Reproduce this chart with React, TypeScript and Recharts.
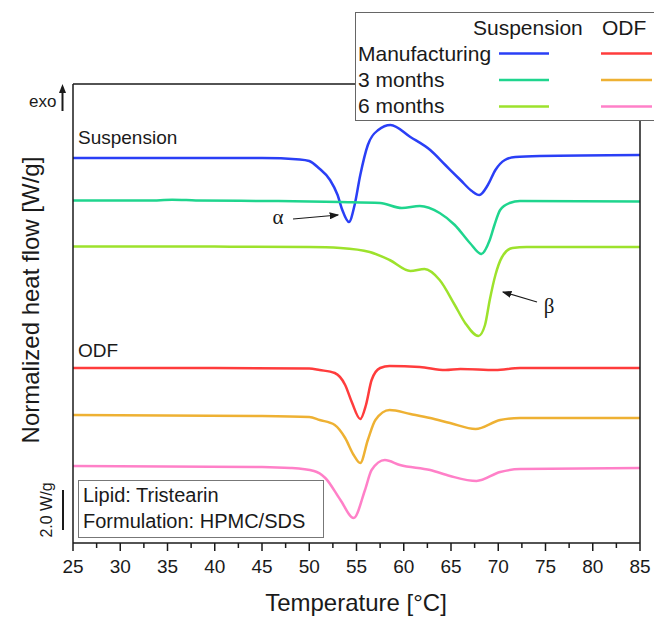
import { Line, LineChart, XAxis, YAxis } from "recharts";

// [temperature °C, stacked heat flow W/g]
const suspManufacturing: [number, number][] = [
  [25, 19.25], [35, 19.25], [45, 19.25], [49, 19.18], [50, 19.1], [51, 18.75], [52.2, 18.15],
  [53, 17.4], [53.5, 16.65], [54.2, 16.05], [54.8, 16.9], [55.4, 18.4], [56.2, 19.9], [57.3, 20.65],
  [58.6, 20.9], [60.7, 20.3], [62.8, 19.65], [64.4, 18.9], [66, 18.15], [67.2, 17.6], [68, 17.4],
  [68.9, 17.9], [69.7, 18.65], [70.7, 19.15], [71.8, 19.3], [74.4, 19.35], [85, 19.4],
];
const susp3Months: [number, number][] = [
  [25, 17.13], [33, 17.12], [35.5, 17.16], [38, 17.13], [45, 17.1], [50, 17.08], [53.3, 17.05],
  [57.5, 17.0], [59.8, 16.75], [61.7, 16.85], [63.8, 16.5], [65.4, 15.9], [67, 15.0], [68.2, 14.45],
  [69.1, 15.15], [69.6, 15.9], [70.2, 16.65], [71.2, 17.0], [72.3, 17.1], [85, 17.08],
];
const susp6Months: [number, number][] = [
  [25, 14.83], [40, 14.82], [50, 14.8], [53.3, 14.75], [56.4, 14.55], [58.5, 14.15], [60.7, 13.6],
  [62.2, 13.7], [63.8, 13.15], [65.4, 11.9], [66.5, 11.0], [67.9, 10.35], [68.6, 10.9], [69.1, 12.15],
  [69.7, 13.4], [70.4, 14.3], [71.5, 14.75], [73, 14.8], [85, 14.8],
];
const odfManufacturing: [number, number][] = [
  [25, 8.75], [40, 8.75], [50, 8.73], [51.1, 8.65], [52.7, 8.5], [53.8, 7.9], [54.5, 7.05],
  [55.4, 6.2], [56, 6.9], [56.6, 8.15], [57.5, 8.75], [58.5, 8.85], [61.7, 8.8], [64.4, 8.65],
  [66, 8.7], [69.7, 8.65], [72.3, 8.75], [85, 8.75],
];
const odf3Months: [number, number][] = [
  [25, 6.4], [45, 6.35], [50, 6.3], [51.1, 6.15], [52.7, 5.9], [53.8, 5.25], [54.7, 4.4],
  [55.4, 4.0], [56.2, 5.15], [57, 6.15], [58.5, 6.65], [60.7, 6.45], [62.8, 6.25], [64.9, 6.0],
  [67.6, 5.7], [70.2, 6.15], [72.3, 6.25], [85, 6.25],
];
const odf6Months: [number, number][] = [
  [25, 3.85], [45, 3.8], [48, 3.75], [50.5, 3.6], [51.7, 3.25], [53.3, 2.15], [54.7, 1.25],
  [55.9, 2.65], [56.6, 3.65], [58, 4.15], [59.6, 3.9], [62.8, 3.65], [64.9, 3.35], [67.7, 3.1],
  [70.2, 3.55], [72.3, 3.7], [85, 3.75],
];

const xTicks = [
  25, 27.5, 30, 32.5, 35, 37.5, 40, 42.5, 45, 47.5, 50, 52.5, 55, 57.5,
  60, 62.5, 65, 67.5, 70, 72.5, 75, 77.5, 80, 82.5, 85,
];

const rowLabels = ["Manufacturing", "3 months", "6 months"];
const suspColors = ["#2a3ff6", "#1fd58e", "#9de22c"];
const odfColors = ["#ff3c3c", "#eeb133", "#ff80c8"];

const series = [
  { name: "susp-manufacturing", points: suspManufacturing, color: suspColors[0] },
  { name: "susp-3m", points: susp3Months, color: suspColors[1] },
  { name: "susp-6m", points: susp6Months, color: suspColors[2] },
  { name: "odf-manufacturing", points: odfManufacturing, color: odfColors[0] },
  { name: "odf-3m", points: odf3Months, color: odfColors[1] },
  { name: "odf-6m", points: odf6Months, color: odfColors[2] },
];

const FONT = "'Liberation Sans', Arial, sans-serif";
const INK = "#1a1a1a";
const frameLine = { stroke: INK, strokeWidth: 1.5 };

function TempTick(props: any) {
  const { x, y, payload } = props;
  const major = payload.value % 5 === 0;
  return (
    <g>
      <line x1={x} x2={x} y1={y} y2={y + (major ? 8 : 5)} stroke={INK} strokeWidth={1.5} />
      {major && (
        <text x={x} y={y + 30} textAnchor="middle" fontSize={19} fontFamily={FONT} fill={INK}>
          {payload.value}
        </text>
      )}
    </g>
  );
}

export default function App() {
  return (
    <div
      style={{
        position: "absolute",
        left: 0,
        top: 0,
        width: 654,
        height: 617,
        background: "#fff",
        overflow: "hidden",
      }}
    >
      <LineChart width={654} height={617} margin={{ top: 83, right: 13, bottom: 44, left: 72 }}>
        <XAxis
          type="number"
          dataKey="0"
          domain={[25, 85]}
          ticks={xTicks}
          interval={0}
          tick={<TempTick />}
          tickLine={false}
          tickSize={0}
          tickMargin={0}
          height={30}
          axisLine={frameLine}
        />
        <XAxis
          xAxisId="top"
          orientation="top"
          type="number"
          dataKey="0"
          domain={[25, 85]}
          tick={false}
          tickLine={false}
          height={1}
          axisLine={frameLine}
        />
        <YAxis
          type="number"
          domain={[0, 22.95]}
          tick={false}
          tickLine={false}
          width={1}
          axisLine={frameLine}
        />
        <YAxis
          yAxisId="right"
          orientation="right"
          type="number"
          domain={[0, 22.95]}
          tick={false}
          tickLine={false}
          width={1}
          axisLine={frameLine}
        />
        {series.map((s) => (
          <Line
            key={s.name}
            data={s.points}
            dataKey="1"
            type="monotone"
            stroke={s.color}
            strokeWidth={2.5}
            dot={false}
            isAnimationActive={false}
          />
        ))}
      </LineChart>

      <svg
        width={654}
        height={617}
        style={{ position: "absolute", left: 0, top: 0, pointerEvents: "none" }}
        fontFamily={FONT}
      >
        <defs>
          <marker id="arrowHead" markerWidth="8" markerHeight="6" refX="7" refY="3" orient="auto">
            <path d="M0,0 L8,3 L0,6 Z" fill={INK} />
          </marker>
        </defs>

        {/* exo marker and scale bar on the left */}
        <text x={29} y={107} fontSize={17} fill={INK}>exo</text>
        <line x1={62.5} x2={62.5} y1={111} y2={92} stroke={INK} strokeWidth={2} />
        <path d="M59,93 L62.5,84 L66,93 Z" fill={INK} />
        <line x1={63} x2={63} y1={490} y2={530} stroke={INK} strokeWidth={2} />
        <text
          x={46}
          y={510}
          fontSize={16}
          fill={INK}
          textAnchor="middle"
          dominantBaseline="central"
          transform="rotate(-90 46 510)"
        >
          2.0 W/g
        </text>

        {/* axis titles */}
        <text x={356} y={611} fontSize={24} fill={INK} textAnchor="middle">
          Temperature [°C]
        </text>
        <text
          x={30}
          y={300}
          fontSize={24}
          fill={INK}
          textAnchor="middle"
          dominantBaseline="central"
          transform="rotate(-90 30 300)"
        >
          Normalized heat flow [W/g]
        </text>

        {/* group labels */}
        <text x={78} y={144} fontSize={19} fill={INK}>Suspension</text>
        <text x={78} y={357} fontSize={19} fill={INK}>ODF</text>

        {/* polymorph annotations */}
        <text x={278} y={224} fontSize={21} fill={INK} fontFamily="'Liberation Serif', serif" textAnchor="middle">
          α
        </text>
        <line x1={293} y1={219} x2={338} y2={215} stroke={INK} strokeWidth={1.2} markerEnd="url(#arrowHead)" />
        <text x={549} y={313} fontSize={21} fill={INK} fontFamily="'Liberation Serif', serif" textAnchor="middle">
          β
        </text>
        <line x1={537} y1={302} x2={503} y2={292} stroke={INK} strokeWidth={1.2} markerEnd="url(#arrowHead)" />

        {/* sample description box */}
        <rect x={78.5} y={480.5} width={245} height={57} fill="#fff" stroke="#777" strokeWidth={1} />
        <text x={83} y={502} fontSize={20} fill={INK}>Lipid: Tristearin</text>
        <text x={83} y={528} fontSize={20} fill={INK}>Formulation: HPMC/SDS</text>
      </svg>

      {/* legend */}
      <div
        style={{
          position: "absolute",
          left: 355,
          top: 12,
          width: 320,
          height: 107,
          background: "#fff",
          border: "1px solid #666",
        }}
      >
        <svg width={320} height={107} style={{ position: "absolute", left: 0, top: 0 }} fontFamily={FONT}>
          <text x={117} y={22} fontSize={21} fill={INK}>Suspension</text>
          <text x={246} y={22} fontSize={21} fill={INK}>ODF</text>
          {rowLabels.map((label, i) => (
            <g key={label}>
              <text x={2} y={48 + i * 26} fontSize={21} fill={INK}>{label}</text>
              <line x1={143} x2={193} y1={40.5 + i * 26.5} y2={40.5 + i * 26.5} stroke={suspColors[i]} strokeWidth={2.5} />
              <line x1={245} x2={296} y1={40.5 + i * 26.5} y2={40.5 + i * 26.5} stroke={odfColors[i]} strokeWidth={2.5} />
            </g>
          ))}
        </svg>
      </div>
    </div>
  );
}
